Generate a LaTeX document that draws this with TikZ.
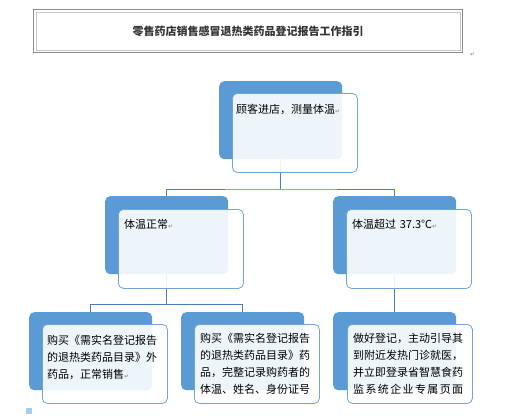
\documentclass[tikz,border=0pt]{standalone}
\usepackage{fontspec}
\setmainfont{Noto Sans CJK SC}
\newfontfamily\dvfont{DejaVu Sans}
\definecolor{backblue}{HTML}{5B9BD5}
\definecolor{frontline}{HTML}{6FA3DA}
\definecolor{connblue}{HTML}{4A7EBB}
\definecolor{sqblue}{HTML}{ADCBF0}
\newcommand\pmk{{\dvfont\fontsize{6}{6}\selectfont\textcolor{gray}{↵}}}
\begin{document}
\begin{tikzpicture}[x=1pt,y=-1pt,
  backbox/.style={rectangle,rounded corners=5pt,fill=backblue,draw=none,
    minimum width=123pt,minimum height=78pt,anchor=north west,inner sep=0pt},
  frontbox/.style={rectangle,rounded corners=5pt,fill=white,fill opacity=0.9,
    draw=frontline,line width=0.8pt,draw opacity=1,
    minimum width=125pt,minimum height=79pt,anchor=north west,inner sep=0pt},
  boxtext/.style={anchor=north west,inner sep=0pt,text width=114pt,align=left,
    font=\fontsize{11}{17}\selectfont},
  conn/.style={draw=connblue,line width=0.8pt}]
\useasboundingbox (0,0) rectangle (518,416);
% title
\node[draw=gray!90,line width=1pt,minimum width=429pt,minimum height=43pt,anchor=north west,inner sep=0pt] (tout) at (33,9) {};
\node[draw=gray!45,line width=0.8pt,minimum width=424pt,minimum height=38pt,anchor=center,inner sep=0pt] (tin) at (tout.center) {};
\node[font=\fontsize{11}{13}\selectfont\bfseries,text=black!80] (title) at (248,31) {零售药店销售感冒退热类药品登记报告工作指引};
\node[anchor=west,inner sep=0pt] (tpm) at (470,55) {\pmk};
% back boxes
\node[backbox] (tb) at (219,81) {};
\node[backbox] (ml) at (105,196) {};
\node[backbox] (mr) at (333,196) {};
\node[backbox] (bl) at (29,312) {};
\node[backbox] (bm) at (181,312) {};
\node[backbox] (br) at (333,312) {};
% connectors
\coordinate (j1) at (282,189);
\coordinate (j2) at (167,304);
\draw[conn] (tb.south) -- (tb.south |- j1);
\draw[conn] (ml.north) |- (j1) -| (mr.north);
\draw[conn] (ml.south) -- (ml.south |- j2);
\draw[conn] (bl.north) |- (j2) -| (bm.north);
\draw[conn] (mr.south) -- (br.north);
% front boxes
\node[frontbox] (tbf) at (232,93) {};
\node[frontbox] (mlf) at (118,209) {};
\node[frontbox] (mrf) at (346,209) {};
\node[frontbox] (blf) at (42,324) {};
\node[frontbox] (bmf) at (194,324) {};
\node[frontbox] (brf) at (347,324) {};
% texts
\node[boxtext] (tbt) at (236,103.5) {\rule{0pt}{10pt}顾客进店，测量体温\pmk};
\node[boxtext] (mlt) at (124,218.5) {\rule{0pt}{10pt}体温正常\pmk};
\node[boxtext] (mrt) at (352,218.5) {\rule{0pt}{10pt}体温超过 37.3℃\pmk};
\node[boxtext] (blt) at (47,334.5) {\rule{0pt}{10pt}购买《需实名登记报告\\的退热类药品目录》外\\药品，正常销售\pmk};
\node[boxtext] (bmt) at (200,332) {\rule{0pt}{10pt}购买《需实名登记报告\\的退热类药品目录》药\\品，完整记录购药者的\\体温、姓名、身份证号};
\node[boxtext] (brt) at (353,332) {\rule{0pt}{10pt}做好登记，主动引导其\\到附近发热门诊就医，\\并立即登录省智慧食药\\\hbox to 110pt{监\hfill 系\hfill 统\hfill 企\hfill 业\hfill 专\hfill 属\hfill 页\hfill 面}};
% small square
\node[fill=sqblue,minimum size=6pt,inner sep=0pt,anchor=north west] (sq) at (26,408) {};
\end{tikzpicture}
\end{document}
